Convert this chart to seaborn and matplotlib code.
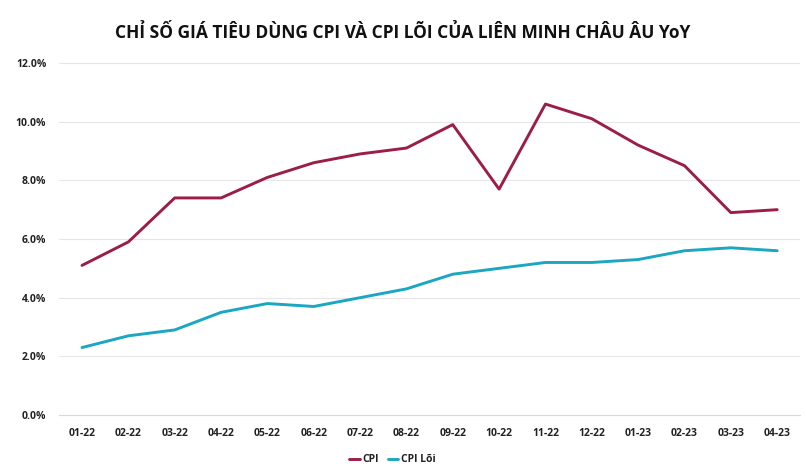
import matplotlib
matplotlib.use("Agg")
import matplotlib.pyplot as plt
import matplotlib.ticker as mtick
import numpy as np
import pandas as pd
import seaborn as sns

months = ["01-22", "02-22", "03-22", "04-22", "05-22", "06-22", "07-22", "08-22",
          "09-22", "10-22", "11-22", "12-22", "01-23", "02-23", "03-23", "04-23"]
cpi = [5.1, 5.9, 7.4, 7.4, 8.1, 8.6, 8.9, 9.1, 9.9, 7.7, 10.6, 10.1, 9.2, 8.5, 6.9, 7.0]
cpi_loi = [2.3, 2.7, 2.9, 3.5, 3.8, 3.7, 4.0, 4.3, 4.8, 5.0, 5.2, 5.2, 5.3, 5.6, 5.7, 5.6]

df = pd.DataFrame({"month": months * 2,
                   "value": cpi + cpi_loi,
                   "series": ["CPI"] * len(months) + ["CPI Lõi"] * len(months)})

sns.set_theme(style="white")
plt.rcParams["font.family"] = ["Open Sans", "DejaVu Sans"]

fig = plt.figure(figsize=(8.06, 4.68), dpi=100)
ax = fig.add_axes([0.073, 0.1132, 0.92, 0.7522])

palette = {"CPI": "#9b1d48", "CPI Lõi": "#1ba6c1"}
sns.lineplot(data=df, x="month", y="value", hue="series", palette=palette,
             linewidth=2.1, ax=ax, sort=False)

ax.set_xlim(-0.5, len(months) - 0.5)
ax.set_ylim(0, 12)
ax.set_yticks(np.arange(0, 12.1, 2))
ax.yaxis.set_major_formatter(mtick.FuncFormatter(lambda v, p: f"{v:.1f}%"))
ax.grid(axis="y", color="#e6e6e6", linewidth=0.8)
ax.set_axisbelow(True)
for s in ["top", "right", "left"]:
    ax.spines[s].set_visible(False)
ax.spines["bottom"].set_color("#d9d9d9")
ax.spines["bottom"].set_linewidth(0.8)

ax.set_xticks(range(len(months)))
ax.set_xticklabels(months)
ax.set_xticks(np.arange(-0.5, len(months), 1), minor=True)
ax.tick_params(axis="x", which="major", length=0, pad=9)
ax.tick_params(axis="x", which="minor", length=4, color="#d9d9d9", width=0.8)
ax.tick_params(axis="y", length=0, pad=9)
for lab in ax.get_xticklabels() + ax.get_yticklabels():
    lab.set_fontsize(7.5)
    lab.set_fontweight("bold")
    lab.set_color("#222222")
ax.set_xlabel("")
ax.set_ylabel("")

leg = ax.legend(loc="upper center", bbox_to_anchor=(0.45, -0.085), ncol=2, frameon=False,
                handlelength=1.0, handletextpad=0.3, columnspacing=0.8,
                prop={"size": 7.5, "weight": "bold"})
for t in leg.get_texts():
    t.set_color("#222222")

fig.text(0.5, 0.93, "CHỈ SỐ GIÁ TIÊU DÙNG CPI VÀ CPI LÕI CỦA LIÊN MINH CHÂU ÂU YoY",
         ha="center", va="center", fontsize=12.5, fontweight="bold", color="#111111")

fig.savefig("out.png", dpi=100)
